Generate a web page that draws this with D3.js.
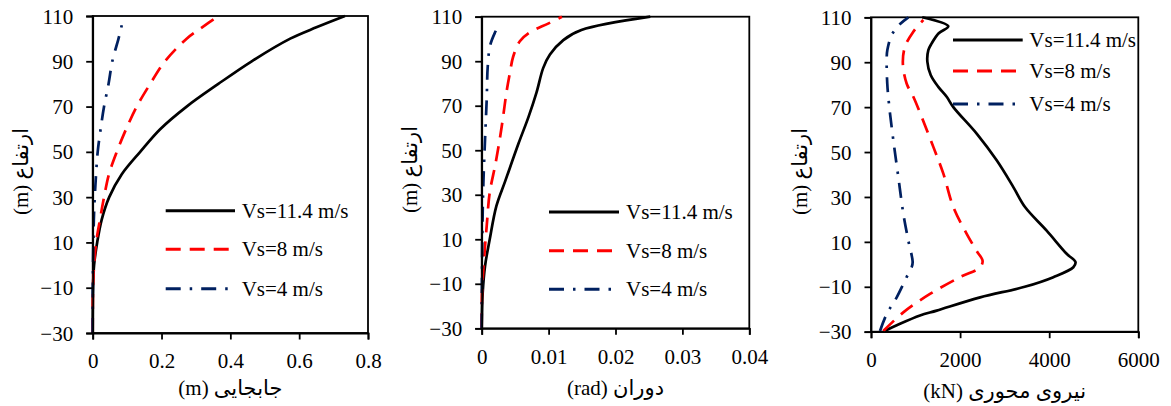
<!DOCTYPE html>
<html>
<head>
<meta charset="utf-8">
<script src="https://cdn.jsdelivr.net/npm/d3@7"></script>
<style>
  html, body { margin: 0; padding: 0; background: #fff; }
  svg { display: block; }
  text { font-family: "Liberation Serif", "Times New Roman", "DejaVu Sans", serif; fill: #000; }
</style>
</head>
<body>
<svg id="chart" width="1171" height="406"></svg>
<script>
// ---------- DATA ----------
const seriesNames = ["Vs=11.4 m/s", "Vs=8 m/s", "Vs=4 m/s"];
const heightTicks = [-30, -10, 10, 30, 50, 70, 90, 110];

// Panel 1: displacement (m)
const dispTicks = [0, 0.2, 0.4, 0.6, 0.8];
const dispHeights = [-30, -20, -10, 0, 10, 20, 30, 40, 50, 60, 70, 80, 90, 100, 105, 110];
const disp114 = [0, 0.0003, 0.001, 0.004, 0.013, 0.026, 0.048, 0.084, 0.138, 0.196, 0.273, 0.365, 0.462, 0.574, 0.65, 0.733];
const disp8   = [0, 0.0002, 0.001, 0.004, 0.010, 0.021, 0.033, 0.047, 0.070, 0.097, 0.128, 0.167, 0.210, 0.273, 0.318, 0.365];
const disp4   = [0, 0, 0.0005, 0.001, 0.002, 0.0033, 0.006, 0.0097, 0.0145, 0.023, 0.033, 0.046, 0.057, 0.075, 0.083, 0.091];

// Panel 2: rotation (rad)
const rotTicks = [0, 0.01, 0.02, 0.03, 0.04];
const rotHeights114 = [-30, -14, -2, 10, 25, 36, 53, 65, 76, 87, 93, 99.5, 104, 110];
const rot114 = [0, 0.00015, 0.0005, 0.0012, 0.0022, 0.0035, 0.0055, 0.0070, 0.0082, 0.0092, 0.0102, 0.0122, 0.0149, 0.0252];
const rotHeights8 = [-30, -14, 1, 16, 31, 43, 55, 65, 76, 84.5, 92, 99, 103, 107, 110];
const rot8 = [0, 0.00005, 0.00035, 0.00075, 0.0012, 0.0020, 0.0027, 0.0032, 0.0037, 0.0042, 0.0047, 0.0057, 0.0072, 0.0100, 0.0120];
const rotHeights4 = [-30, 13, 35, 55, 73, 87.5, 97, 103, 107];
const rot4 = [0, 0.0001, 0.00025, 0.0005, 0.00075, 0.0009, 0.00125, 0.0020, 0.0027];

// Panel 3: axial force (kN)
const forceTicks = [0, 2000, 4000, 6000];
const forceHeights114 = [-30, -26.5, -22.8, -20.6, -14.7, -10, -5.7, -1.3, 1, 4.7, 15, 25.5, 34.4, 46.3, 58.2, 70, 74.6, 79, 84.3, 90.2, 95.4, 98.4, 102.9, 106, 110];
const force114 = [276, 651, 1100, 1474, 2450, 3450, 4093, 4542, 4590, 4392, 3943, 3457, 3195, 2821, 2372, 1848, 1699, 1511, 1340, 1265, 1287, 1362, 1520, 1735, 1150];
const forceHeights8 = [-29.7, -21.4, -13.2, -5.7, -1.5, 1.5, 6, 13.6, 25.5, 40.4, 52.3, 65, 74.6, 80.5, 89.5, 96.9, 103.6, 108.8];
const force8 = [276, 725, 1324, 1998, 2440, 2505, 2370, 2148, 1848, 1624, 1399, 1150, 950, 800, 715, 763, 950, 1175];
const forceHeights4 = [-29.7, -22.1, -14.7, -5.7, -1.3, 1, 10.6, 22.5, 38.9, 55.3, 70, 80.5, 91.7, 95.4, 102.1, 106.6, 110];
const force4 = [202, 352, 577, 800, 913, 935, 838, 726, 613, 501, 411, 365, 352, 367, 464, 630, 838];

// ---------- STYLES / LAYOUT ----------
const colors = ["#000000", "#ff0000", "#002060"];
const dashes = [null, "15,9", "15,9,2.5,9"];

const panels = [
  { box: [92.7, 368, 16, 333], xDomain: [0, 0.8], xTicks: dispTicks, fmt: d => d === 0 ? "0" : d3.format(".1f")(d),
    series: [[dispHeights, disp114], [dispHeights, disp8], [dispHeights, disp4]],
    xTitle: "جابجایی (m)", yTitleX: 21, xTitleY: 395,
    legend: { x1: 165.7, x2: 235, tx: 241.7, ys: [210.7, 249.3, 288.7] } },
  { box: [481.7, 749.3, 16.7, 328.3], xDomain: [0, 0.04], xTicks: rotTicks, fmt: d => d === 0 ? "0" : d3.format(".2f")(d),
    series: [[rotHeights114, rot114], [rotHeights8, rot8], [rotHeights4, rot4]],
    xTitle: "دوران (rad)", yTitleX: 410, xTitleY: 395,
    legend: { x1: 549, x2: 619, tx: 626, ys: [212, 250.7, 289.3] } },
  { box: [871, 1138.3, 17.3, 331.7], xDomain: [0, 6000], xTicks: forceTicks, fmt: d => String(d),
    series: [[forceHeights114, force114], [forceHeights8, force8], [forceHeights4, force4]],
    xTitle: "نیروی محوری (kN)", yTitleX: 800, xTitleY: 398,
    legend: { x1: 953, x2: 1022.7, tx: 1029.3, ys: [40, 71, 104] } }
];

const svg = d3.select("#chart");
const FS = 21;

panels.forEach(p => {
  const [L, R, T, B] = p.box;
  const x = d3.scaleLinear().domain(p.xDomain).range([L, R]);
  const y = d3.scaleLinear().domain([-30, 110]).range([B, T]);
  const g = svg.append("g");

  // frame
  g.append("rect").attr("x", L).attr("y", T).attr("width", R - L).attr("height", B - T)
    .attr("fill", "none").attr("stroke", "#000").attr("stroke-width", 1.8);

  // curves
  const line = d3.line().x(d => x(d[1])).y(d => y(d[0])).curve(d3.curveCatmullRom.alpha(0.5));
  p.series.forEach((s, i) => {
    const pts = s[0].map((h, k) => [h, s[1][k]]);
    g.append("path").datum(pts).attr("d", line)
      .attr("fill", "none").attr("stroke", colors[i]).attr("stroke-width", 2.7)
      .attr("stroke-dasharray", dashes[i]).attr("stroke-linejoin", "round");
  });

  // axes
  const ax = g.append("g").attr("transform", `translate(0,${B})`)
    .call(d3.axisBottom(x).tickValues(p.xTicks).tickFormat(p.fmt).tickSizeOuter(0).tickSize(6.5).tickPadding(9));
  const ay = g.append("g").attr("transform", `translate(${L},0)`)
    .call(d3.axisLeft(y).tickValues(heightTicks).tickSizeOuter(0).tickSize(6.5).tickPadding(13));
  [ax, ay].forEach(a => {
    a.selectAll("path, line").attr("stroke", "#000").attr("stroke-width", 1.8);
    a.selectAll("text").attr("font-size", FS).attr("font-family", "Liberation Serif, Times New Roman, serif").attr("fill", "#000");
  });
  ax.selectAll("text").attr("dy", "0.95em");
  ay.selectAll("text").attr("dy", "0.34em");

  // titles
  g.append("text").attr("x", (L + R) / 2).attr("y", p.xTitleY).attr("text-anchor", "middle")
    .attr("direction", "rtl").attr("font-size", FS).text(p.xTitle);
  g.append("text").attr("transform", `translate(${p.yTitleX},${(T + B) / 2 - 3}) rotate(-90)`)
    .attr("text-anchor", "middle").attr("dy", "0.35em").attr("direction", "rtl").attr("font-size", FS).text("ارتفاع (m)");

  // legend
  const lg = p.legend;
  seriesNames.forEach((name, i) => {
    g.append("line").attr("x1", lg.x1).attr("x2", lg.x2).attr("y1", lg.ys[i]).attr("y2", lg.ys[i])
      .attr("stroke", colors[i]).attr("stroke-width", 3).attr("stroke-dasharray", dashes[i]);
    g.append("text").attr("x", lg.tx).attr("y", lg.ys[i]).attr("dy", "0.33em")
      .attr("font-size", FS).text(name);
  });
});
</script>
</body>
</html>
